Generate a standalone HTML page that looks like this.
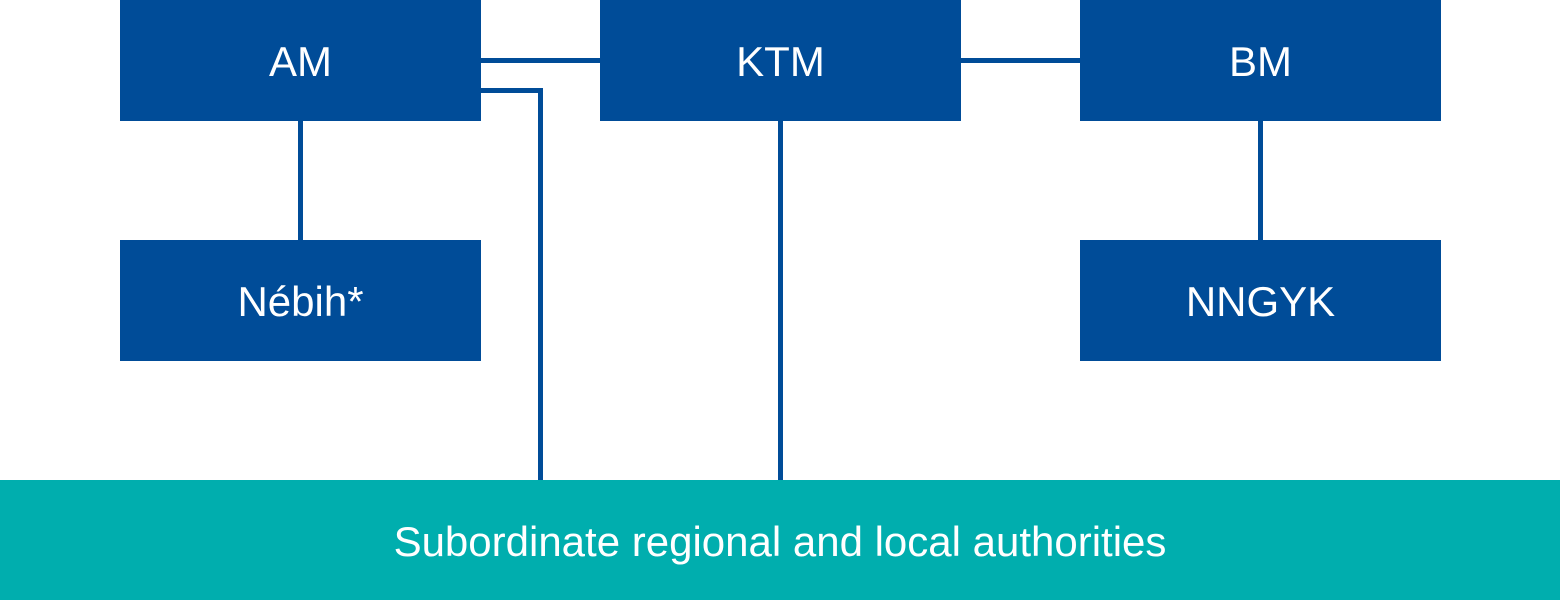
<!DOCTYPE html>
<html><head><meta charset="utf-8"><style>
html,body{margin:0;padding:0;background:#fff;}
body{width:1560px;height:600px;position:relative;overflow:hidden;font-family:"Liberation Sans",Arial,sans-serif;}
.b{position:absolute;background:#004C98;color:#fff;font-size:42px;display:flex;align-items:center;justify-content:center;box-sizing:border-box;padding-top:3px;}
.l{position:absolute;background:#004C98;}
</style></head><body>
<div class="l" style="left:480px;top:58px;width:120px;height:5px"></div>
<div class="l" style="left:960px;top:58px;width:120px;height:5px"></div>
<div class="l" style="left:480px;top:88px;width:63px;height:5px"></div>
<div class="l" style="left:538px;top:88px;width:5px;height:392px"></div>
<div class="l" style="left:298px;top:120px;width:5px;height:120px"></div>
<div class="l" style="left:1258px;top:120px;width:5px;height:120px"></div>
<div class="l" style="left:778px;top:120px;width:5px;height:360px"></div>
<div class="b" style="left:120px;top:0;width:361px;height:121px">AM</div>
<div class="b" style="left:600px;top:0;width:361px;height:121px">KTM</div>
<div class="b" style="left:1080px;top:0;width:361px;height:121px">BM</div>
<div class="b" style="left:120px;top:240px;width:361px;height:121px">Nébih*</div>
<div class="b" style="left:1080px;top:240px;width:361px;height:121px">NNGYK</div>
<div class="b" style="left:0;top:480px;width:1560px;height:120px;background:#00AEAE;padding-top:4px;">Subordinate regional and local authorities</div>
</body></html>
